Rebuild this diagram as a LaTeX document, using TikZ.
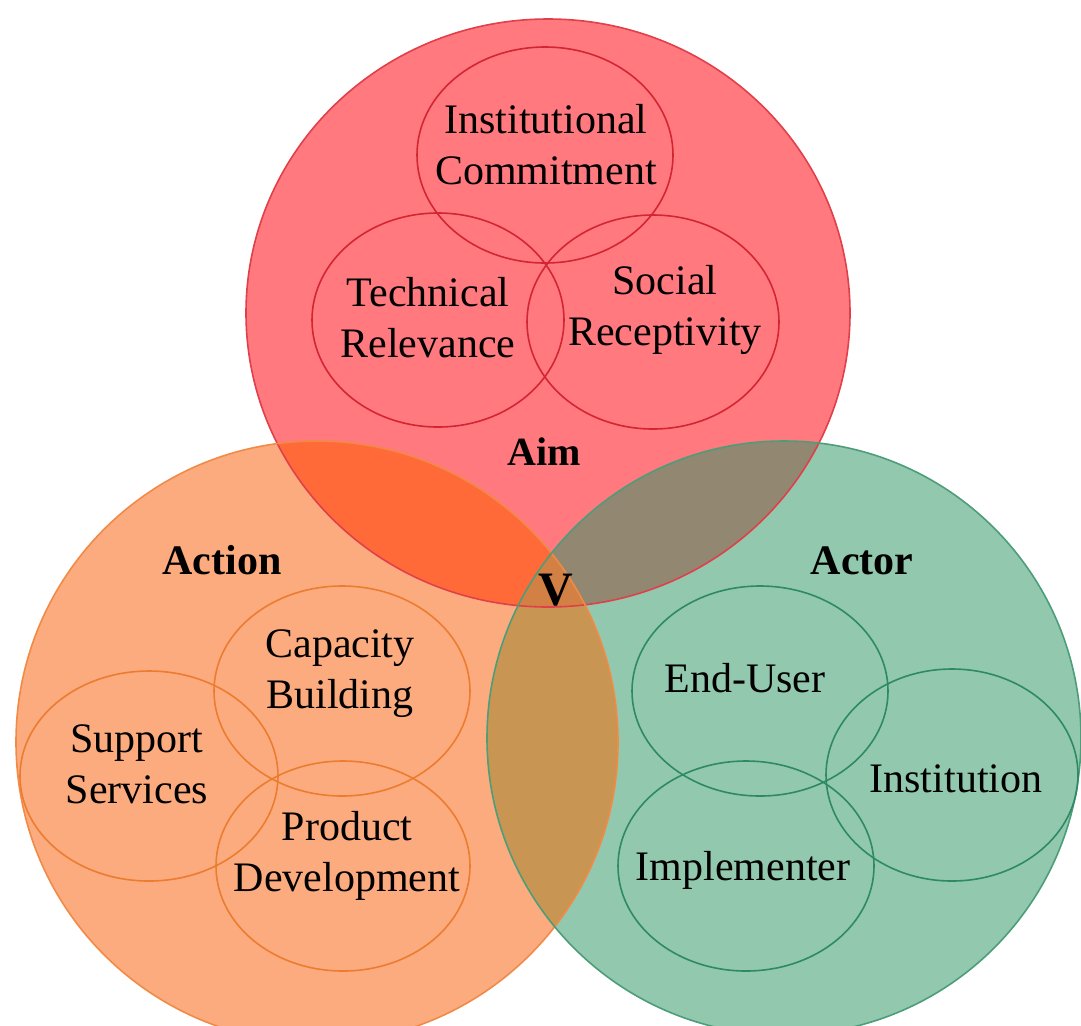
\documentclass[tikz,border=0pt]{standalone}
\usepackage{fontspec}
\setmainfont{Liberation Serif}
\usepackage{xcolor}
\usepackage{tikz}
\usetikzlibrary{shapes.geometric}
\definecolor{aimfill}{RGB}{255,121,126}
\definecolor{actionfill}{RGB}{252,171,126}
\definecolor{actorfill}{RGB}{146,200,174}
\definecolor{aimactionfill}{RGB}{255,106,56}
\definecolor{aimactorfill}{RGB}{146,135,112}
\definecolor{actionactorfill}{RGB}{200,150,82}
\definecolor{allfill}{RGB}{210,128,68}
\definecolor{aimline}{RGB}{212,38,50}
\definecolor{actionline}{RGB}{236,124,48}
\definecolor{actorline}{RGB}{46,138,100}
\newcommand*{\aimcircle}{(548,313) ellipse [x radius=302, y radius=294]}
\newcommand*{\actioncircle}{(317,742) circle [radius=301]}
\newcommand*{\actorcircle}{(784,738) circle [radius=297]}
\tikzstyle{aimring}=[draw=aimline, line width=0.8pt, shape=ellipse, inner sep=0pt]
\tikzstyle{actionring}=[draw=actionline, line width=0.8pt, shape=ellipse, inner sep=0pt]
\tikzstyle{actorring}=[draw=actorline, line width=0.8pt, shape=ellipse, inner sep=0pt]
\tikzstyle{itemlabel}=[black, font=\fontsize{21pt}{25.5pt}\selectfont, align=center, inner sep=0pt]
\tikzstyle{setlabel}=[black, font=\fontsize{21pt}{25pt}\selectfont\bfseries, inner sep=0pt, anchor=base]

\begin{document}
\begin{tikzpicture}[x=0.5pt, y=-0.5pt]
\useasboundingbox (0,0) rectangle (1081,1025);

% the three sets and their overlaps
\fill[aimfill] \aimcircle;
\fill[actionfill] \actioncircle;
\fill[actorfill] \actorcircle;
\begin{scope}
\clip \aimcircle;
\fill[aimactionfill] \actioncircle;
\fill[aimactorfill] \actorcircle;
\end{scope}
\begin{scope}
\clip \actioncircle;
\fill[actionactorfill] \actorcircle;
\clip \actorcircle;
\fill[allfill] \aimcircle;
\end{scope}
\draw[line width=0.8pt, color=aimline!70!aimfill] \aimcircle;
\draw[line width=0.8pt, color=actionline!70!actionfill] \actioncircle;
\draw[line width=0.8pt, color=actorline!70!actorfill] \actorcircle;

% aim
\node [aimring, minimum width=128pt, minimum height=108pt] (commitring) at (545,155) {};
\node [aimring, minimum width=126pt, minimum height=107pt] (technicalring) at (438,320) {};
\node [aimring, minimum width=126pt, minimum height=107pt] (socialring) at (653,322) {};
\node [itemlabel] (commit) at (546,145) {Institutional\\Commitment};
\node [itemlabel] (technical) at (428,318) {Technical\\Relevance};
\node [itemlabel] (social) at (665,310) {Social\\Receptivity};

% action
\node [actionring, minimum width=128pt, minimum height=105pt] (capacityring) at (342,691) {};
\node [actionring, minimum width=129pt, minimum height=105pt] (supportring) at (149,776) {};
\node [actionring, minimum width=127pt, minimum height=105pt] (productring) at (343,866) {};
\node [itemlabel] (capacity) at (340,674) {Capacity\\Building};
\node [itemlabel] (support) at (137,764) {Support\\Services};
\node [itemlabel] (product) at (347,856) {Product\\Development};

% actor
\node [actorring, minimum width=128pt, minimum height=105pt] (enduserring) at (760,691) {};
\node [actorring, minimum width=126pt, minimum height=106pt] (institutionring) at (952,775) {};
\node [actorring, minimum width=128pt, minimum height=105pt] (implementerring) at (746,866) {};
\node [itemlabel, anchor=base] (enduser) at (745,692) {End-User};
\node [itemlabel, anchor=base] (institution) at (956,792) {Institution};
\node [itemlabel, anchor=base] (implementer) at (743,880) {Implementer};

\node [setlabel, font=\fontsize{20pt}{24pt}\selectfont\bfseries] (aim) at (544,465) {Aim};
\node [setlabel] (action) at (222,574) {Action};
\node [setlabel] (actor) at (862,574) {Actor};
\node [setlabel, font=\fontsize{24pt}{28pt}\selectfont\bfseries] (v) at (556,605) {V};
\end{tikzpicture}
\end{document}
